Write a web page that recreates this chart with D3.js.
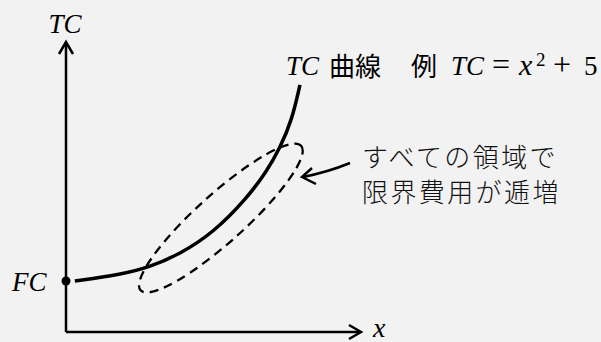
<!DOCTYPE html>
<html>
<head>
<meta charset="utf-8">
<script src="https://cdn.jsdelivr.net/npm/d3@7"></script>
<style>
  body { margin: 0; background: #f2f2f2; }
  svg { display: block; }
</style>
</head>
<body>
<script>
// curve (axis units 0..100)
var curveX = [3.0, 18.3, 28.5, 38.6, 49.8, 61.4, 68.1, 72.5, 76.6, 79.3];
var curveY = [17.6, 19.7, 22.4, 26.9, 34.1, 46.2, 55.5, 63.4, 73.1, 85.2];
var fcValue = 17.6;

// dashed ellipse around the upper part of the curve
var ellipseCenter = [52.5, 39.3];
var axisLabels = ["TC", "x", "FC"];
var noteLines = ["すべての領域で", "限界費用が逓増"];

var width = 601, height = 342;
var mathFont = "'Liberation Serif', 'DejaVu Serif', serif";
var jpFont = "'Noto Sans CJK JP', 'Noto Sans', sans-serif";

var svg = d3.select("body").append("svg")
    .attr("width", width)
    .attr("height", height);

var x = d3.scaleLinear().domain([0, 100]).range([66, 361]);
var y = d3.scaleLinear().domain([0, 100]).range([332, 42]);

// axes with open arrowheads
var axes = svg.append("g")
    .attr("stroke", "#000")
    .attr("stroke-width", 2.5)
    .attr("fill", "none");

axes.append("path")
    .attr("d", "M" + x(0) + "," + y(0) + "H" + (x(100) - 1));
axes.append("path")
    .attr("d", "M" + x(0) + "," + y(0) + "V" + (y(100) + 1));
axes.append("path")
    .attr("d", "M" + (x(100) - 12) + "," + (y(0) - 7) + "L" + x(100) + "," + y(0) + "L" + (x(100) - 12) + "," + (y(0) + 7));
axes.append("path")
    .attr("d", "M" + (x(0) - 7) + "," + (y(100) + 12) + "L" + x(0) + "," + y(100) + "L" + (x(0) + 7) + "," + (y(100) + 12));

// TC curve
var line = d3.line()
    .x(function(d) { return x(d[0]); })
    .y(function(d) { return y(d[1]); })
    .curve(d3.curveBasis);

svg.append("path")
    .datum(d3.zip(curveX, curveY))
    .attr("d", line)
    .attr("fill", "none")
    .attr("stroke", "#000")
    .attr("stroke-width", 3.5);

// FC point
svg.append("circle")
    .attr("cx", x(0))
    .attr("cy", y(fcValue))
    .attr("r", 4.5)
    .attr("fill", "#000");

// dashed ellipse
svg.append("ellipse")
    .attr("cx", x(ellipseCenter[0]))
    .attr("cy", y(ellipseCenter[1]))
    .attr("rx", 108)
    .attr("ry", 24)
    .attr("transform", "rotate(-42," + x(ellipseCenter[0]) + "," + y(ellipseCenter[1]) + ")")
    .attr("fill", "none")
    .attr("stroke", "#000")
    .attr("stroke-width", 2.3)
    .attr("stroke-dasharray", "9,6");

// arrow to the ellipse
svg.append("path")
    .attr("d", "M350,163Q328,172 303,177")
    .attr("fill", "none")
    .attr("stroke", "#000")
    .attr("stroke-width", 2.5);
svg.append("path")
    .attr("d", "M312,168L302,177L316,184")
    .attr("fill", "none")
    .attr("stroke", "#000")
    .attr("stroke-width", 2.5);

// axis labels
svg.append("text")
    .attr("x", 65).attr("y", 33)
    .attr("text-anchor", "middle")
    .style("font-family", mathFont).style("font-style", "italic").style("font-size", "27px")
    .text(axisLabels[0]);
svg.append("text")
    .attr("x", 373).attr("y", 337)
    .style("font-family", mathFont).style("font-style", "italic").style("font-size", "28px")
    .text(axisLabels[1]);
svg.append("text")
    .attr("x", 12).attr("y", 291)
    .style("font-family", mathFont).style("font-style", "italic").style("font-size", "27px")
    .text(axisLabels[2]);

// curve label: TC 曲線　例 TC = x² + 5
var t = svg.append("text")
    .attr("y", 75)
    .style("font-size", "27px")
    .style("font-family", mathFont);
t.append("tspan").attr("x", 286).style("font-style", "italic").text("TC");
t.append("tspan").attr("x", 329).attr("y", 76).style("font-family", jpFont).style("font-size", "26px").text("曲線");
t.append("tspan").attr("x", 411).attr("y", 76).style("font-family", jpFont).style("font-size", "26px").text("例");
t.append("tspan").attr("x", 451).attr("y", 75).style("font-style", "italic").text("TC");
t.append("tspan").attr("x", 492).style("font-size", "32px").text("=");
t.append("tspan").attr("x", 519).style("font-style", "italic").style("font-size", "30px").text("x");
t.append("tspan").attr("x", 536).attr("y", 66).style("font-size", "19px").text("2");
t.append("tspan").attr("x", 553).attr("y", 75).style("font-size", "32px").text("+");
t.append("tspan").attr("x", 584).text("5");

// note
svg.selectAll(".note")
    .data(noteLines)
    .enter()
    .append("text")
    .attr("class", "note")
    .attr("x", 362)
    .attr("y", function(d, i) { return 167 + i * 35; })
    .style("font-family", jpFont)
    .style("font-weight", 300)
    .style("font-size", "26px")
    .style("letter-spacing", "2.4px")
    .attr("fill", "#111")
    .text(function(d) { return d; });
</script>
</body>
</html>
